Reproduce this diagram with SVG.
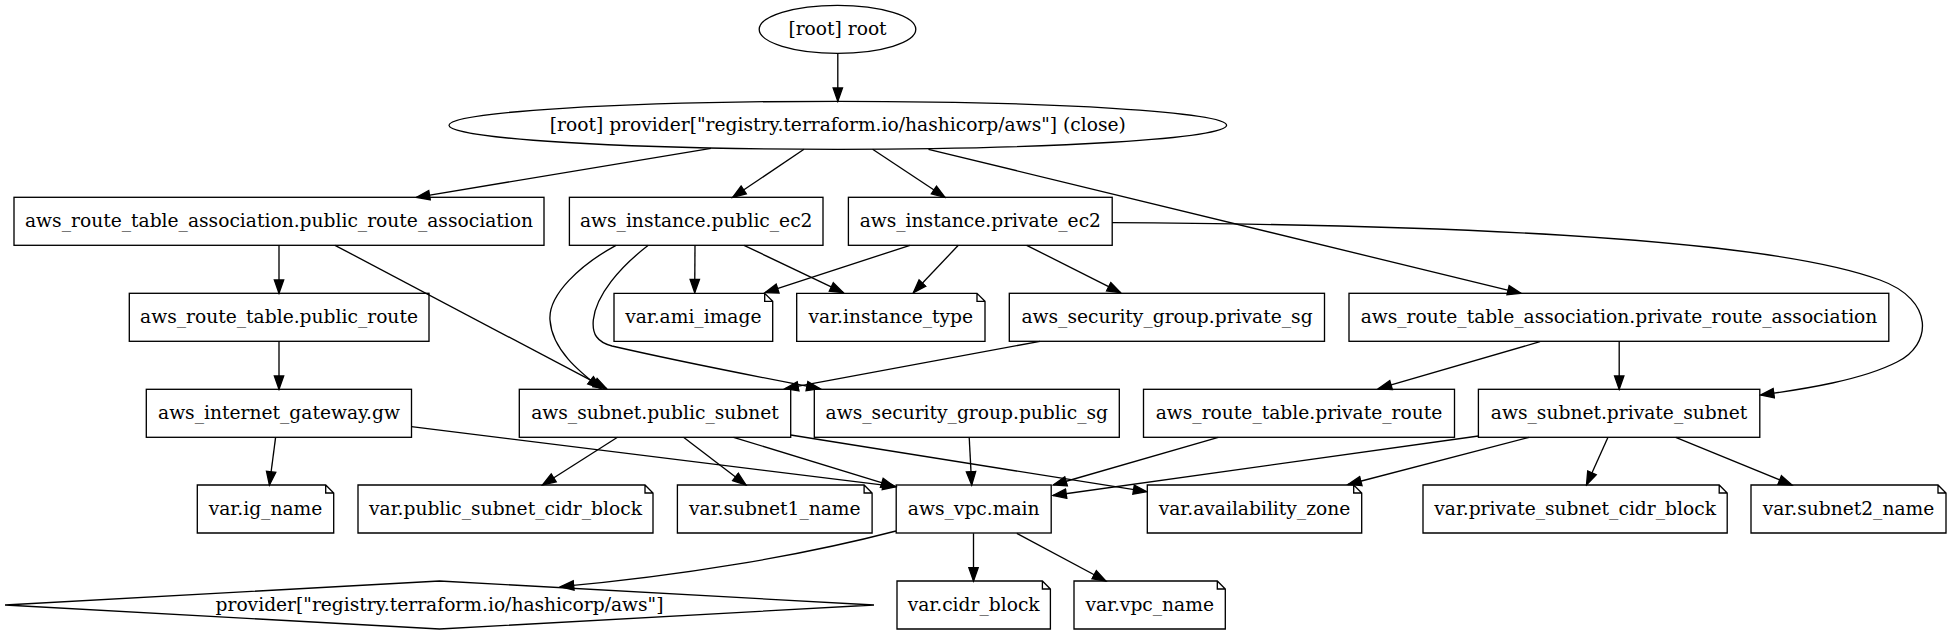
<svg xmlns="http://www.w3.org/2000/svg" width="1951" height="635" viewBox="0 0 1951 635">
<style>
.n{fill:none;stroke:#000;stroke-width:1.33}
.t{font-family:"DejaVu Serif","Liberation Serif",serif;font-size:18.67px;fill:#000;text-anchor:middle}
.e{fill:none;stroke:#000;stroke-width:1.33;marker-end:url(#ah)}
</style>
<defs>
<marker id="ah" markerUnits="userSpaceOnUse" markerWidth="16" markerHeight="12" refX="13.3" refY="0" viewBox="-1 -6 16 12" orient="auto">
<path d="M0,-4.67 L13.3,0 L0,4.67 Z" fill="#000" stroke="#000" stroke-width="1.33"/>
</marker>
</defs>
<rect width="1951" height="635" fill="#fff"/>
<g id="connectors">
<path class="e" d="M837.8,53.3 L837.8,101.3"/>
<path class="e" d="M711,148.3 L416.4,197.3"/>
<path class="e" d="M804,149.3 L732.7,197.3"/>
<path class="e" d="M872.6,149.3 L945,197.3"/>
<path class="e" d="M928.5,149.3 L1521,293.3"/>
<path class="e" d="M279,245.3 L279,293.3"/>
<path class="e" d="M335,245.3 L606.7,388.7"/>
<path class="e" d="M695,245.3 L694.7,292.7"/>
<path class="e" d="M744,245.3 L843.3,292.7"/>
<path class="e" d="M616,245.3 C580,265 548,295 550,320 C552,350 580,372 601,388.5"/>
<path class="e" d="M648.3,245.3 C620,267 596,295 593.3,320 C592,334 597,342 612,346 C690,364 760,377 820,388.7"/>
<path class="e" d="M910,245.3 L765,292.7"/>
<path class="e" d="M958.3,245.3 L913.3,292.7"/>
<path class="e" d="M1026.7,245.3 L1120.5,292.7"/>
<path class="e" d="M1112,222.7 C1350,224 1750,232 1880,280 C1935,300 1932,345 1897,362 C1862,380 1805,389 1760.6,395"/>
<path class="e" d="M1040,341.3 L785,388.7"/>
<path class="e" d="M1540,341.7 L1378.3,388.7"/>
<path class="e" d="M1619.2,341.3 L1619.2,389.3"/>
<path class="e" d="M279,341.3 L279,389.3"/>
<path class="e" d="M275.6,437.3 L269.4,485"/>
<path class="e" d="M411.4,426.7 L896,486.7"/>
<path class="e" d="M617.5,437.3 L542.5,485"/>
<path class="e" d="M683.5,437.3 L746,485"/>
<path class="e" d="M733.6,437.3 L894.5,486.7"/>
<path class="e" d="M790.7,435 L1146.7,491.7"/>
<path class="e" d="M969.2,437.3 L971.7,485"/>
<path class="e" d="M1218.3,437.3 L1053.3,485"/>
<path class="e" d="M1478.5,436 L1053,495.5"/>
<path class="e" d="M1529.2,437.3 L1348,484.5"/>
<path class="e" d="M1608,437.3 L1586.5,485"/>
<path class="e" d="M1675.7,437.3 L1792,485"/>
<path class="e" d="M896,531 C800,556 680,576 560.4,586.7"/>
<path class="e" d="M973.5,533.3 L973.5,581"/>
<path class="e" d="M1016.8,533.3 L1105.9,581"/>
</g>
<g id="root"><ellipse class="n" cx="837.5" cy="29.3" rx="78.3" ry="24"/><text class="t" x="837.5" y="35.3">[root] root</text></g>
<g id="provider_close"><ellipse class="n" cx="837.8" cy="125.3" rx="388.8" ry="24"/><text class="t" x="837.8" y="131.3">[root] provider["registry.terraform.io/hashicorp/aws"] (close)</text></g>
<g id="rta_public"><rect class="n" x="14" y="197.3" width="530" height="48"/><text class="t" x="279" y="227.3">aws_route_table_association.public_route_association</text></g>
<g id="public_ec2"><rect class="n" x="569.4" y="197.3" width="253.6" height="48"/><text class="t" x="696.2" y="227.3">aws_instance.public_ec2</text></g>
<g id="private_ec2"><rect class="n" x="848.4" y="197.3" width="263.8" height="48"/><text class="t" x="980.3" y="227.3">aws_instance.private_ec2</text></g>
<g id="rt_public"><rect class="n" x="129.3" y="293.3" width="299.7" height="48"/><text class="t" x="279" y="323.3">aws_route_table.public_route</text></g>
<g id="ami_image"><path class="n" d="M614,293.3 H764.7 L772.7,301.3 V341.3 H614 Z M764.7,293.3 V301.3 H772.7"/><text class="t" x="693.3" y="323.3">var.ami_image</text></g>
<g id="instance_type"><path class="n" d="M796.7,293.3 H977 L985,301.3 V341.3 H796.7 Z M977,293.3 V301.3 H985"/><text class="t" x="890.8" y="323.3">var.instance_type</text></g>
<g id="private_sg"><rect class="n" x="1009.3" y="293.3" width="315.2" height="48"/><text class="t" x="1167" y="323.3">aws_security_group.private_sg</text></g>
<g id="rta_private"><rect class="n" x="1349" y="293.3" width="539.8" height="48"/><text class="t" x="1619" y="323.3">aws_route_table_association.private_route_association</text></g>
<g id="igw"><rect class="n" x="146.3" y="389.3" width="265.2" height="48"/><text class="t" x="279" y="419.3">aws_internet_gateway.gw</text></g>
<g id="public_subnet"><rect class="n" x="519.3" y="389.3" width="271.4" height="48"/><text class="t" x="655" y="419.3">aws_subnet.public_subnet</text></g>
<g id="public_sg"><rect class="n" x="814.3" y="389.3" width="305" height="48"/><text class="t" x="966.8" y="419.3">aws_security_group.public_sg</text></g>
<g id="private_route"><rect class="n" x="1143.5" y="389.3" width="311" height="48"/><text class="t" x="1299" y="419.3">aws_route_table.private_route</text></g>
<g id="private_subnet"><rect class="n" x="1478.4" y="389.3" width="281.4" height="48"/><text class="t" x="1619.1" y="419.3">aws_subnet.private_subnet</text></g>
<g id="ig_name"><path class="n" d="M197.3,485 H325.7 L333.7,493 V533 H197.3 Z M325.7,485 V493 H333.7"/><text class="t" x="265.5" y="515">var.ig_name</text></g>
<g id="public_cidr"><path class="n" d="M358,485 H645 L653,493 V533 H358 Z M645,485 V493 H653"/><text class="t" x="505.5" y="515">var.public_subnet_cidr_block</text></g>
<g id="subnet1_name"><path class="n" d="M677.4,485 H864.1 L872.1,493 V533 H677.4 Z M864.1,485 V493 H872.1"/><text class="t" x="774.8" y="515">var.subnet1_name</text></g>
<g id="vpc_main"><rect class="n" x="896.2" y="485" width="155" height="48"/><text class="t" x="973.7" y="515">aws_vpc.main</text></g>
<g id="availability_zone"><path class="n" d="M1147.3,485 H1353.7 L1361.7,493 V533 H1147.3 Z M1353.7,485 V493 H1361.7"/><text class="t" x="1254.5" y="515">var.availability_zone</text></g>
<g id="private_cidr"><path class="n" d="M1423,485 H1719.2 L1727.2,493 V533 H1423 Z M1719.2,485 V493 H1727.2"/><text class="t" x="1575.1" y="515">var.private_subnet_cidr_block</text></g>
<g id="subnet2_name"><path class="n" d="M1751,485 H1938 L1946,493 V533 H1751 Z M1938,485 V493 H1946"/><text class="t" x="1848.5" y="515">var.subnet2_name</text></g>
<g id="provider_aws"><polygon class="n" points="439.5,581 874,605 439.5,629 5,605"/><text class="t" x="439.5" y="611">provider["registry.terraform.io/hashicorp/aws"]</text></g>
<g id="cidr_block"><path class="n" d="M897,581 H1042.4 L1050.4,589 V629 H897 Z M1042.4,581 V589 H1050.4"/><text class="t" x="973.7" y="611">var.cidr_block</text></g>
<g id="vpc_name"><path class="n" d="M1074,581 H1217.3 L1225.3,589 V629 H1074 Z M1217.3,581 V589 H1225.3"/><text class="t" x="1149.7" y="611">var.vpc_name</text></g>
</svg>
